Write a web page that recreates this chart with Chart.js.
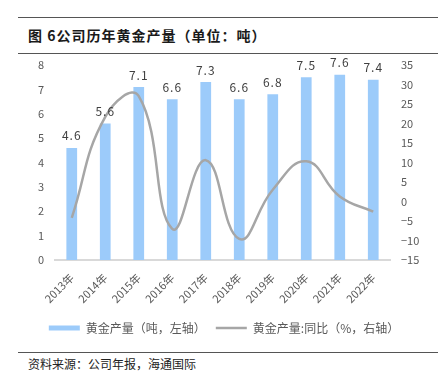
<!DOCTYPE html>
<html>
<head>
<meta charset="utf-8">
<script src="https://cdn.jsdelivr.net/npm/chart.js@4.4.0/dist/chart.umd.min.js"></script>
<style>
  body { margin: 0; width: 448px; height: 384px; background: #fff; position: relative; overflow: hidden; font-family: "Noto Sans CJK SC", "Noto Sans", sans-serif; }
  .rule { position: absolute; left: 18px; width: 420px; height: 0; border-top: 1.5px solid #555; }
  #title { position: absolute; left: 28px; top: 25px; font-size: 14px; font-weight: bold; letter-spacing: 1px; color: #1a1a1a; white-space: nowrap; }
  #source { position: absolute; left: 28px; top: 355px; font-size: 12px; color: #222; white-space: nowrap; }
  #chartBox { position: absolute; left: 0; top: 54px; width: 448px; height: 296px; }
</style>
</head>
<body>
<div class="rule" style="top:17px"></div>
<div id="title">图 6公司历年黄金产量（单位：吨）</div>
<div class="rule" style="top:53px"></div>
<div id="chartBox"><canvas id="myChart" width="448" height="296"></canvas></div>
<div class="rule" style="top:352px"></div>
<div id="source">资料来源：公司年报，海通国际</div>

<script>
// Data
var years = ["2013年", "2014年", "2015年", "2016年", "2017年", "2018年", "2019年", "2020年", "2021年", "2022年"];
var goldOutput = [4.6, 5.6, 7.1, 6.6, 7.3, 6.6, 6.8, 7.5, 7.6, 7.4];   // tonnes, left axis
var yoyChange = [-4.2, 21.7, 27.0, -7.0, 10.6, -9.6, 3.0, 10.3, 1.3, -2.6]; // %, right axis

var labelColor = "#595959";
var cjkFont = "'Noto Sans CJK SC', 'Noto Sans', sans-serif";

// Draw the value above each bar
var barValueLabels = {
  id: "barValueLabels",
  afterDatasetsDraw: function (chart) {
    var ctx = chart.ctx;
    var meta = chart.getDatasetMeta(0);
    ctx.save();
    ctx.font = "12px " + cjkFont;
    ctx.fillStyle = "#404040";
    ctx.textAlign = "center";
    ctx.textBaseline = "bottom";
    ctx.letterSpacing = "1px";
    meta.data.forEach(function (bar, i) {
      ctx.fillText(goldOutput[i].toFixed(1), bar.x, bar.y - 6);
    });
    ctx.restore();
  }
};

var ctx = document.getElementById("myChart").getContext("2d");
var myChart = new Chart(ctx, {
  data: {
    labels: years,
    datasets: [
      {
        type: "bar",
        label: "黄金产量（吨，左轴）",
        data: goldOutput,
        yAxisID: "y",
        backgroundColor: "#9CCBFA",
        borderWidth: 0,
        barPercentage: 0.32,
        categoryPercentage: 1,
        pointStyle: "rect",
        order: 1
      },
      {
        type: "line",
        label: "黄金产量:同比（%，右轴）",
        data: yoyChange,
        yAxisID: "y1",
        borderColor: "#A6A6A6",
        backgroundColor: "#A6A6A6",
        borderWidth: 2.5,
        tension: 0.45,
        pointRadius: 0,
        pointStyle: "line",
        order: 0
      }
    ]
  },
  options: {
    responsive: false,
    animation: false,
    devicePixelRatio: 1,
    layout: { padding: { top: 11, bottom: 6, left: 0, right: 0 } },
    plugins: {
      tooltip: { enabled: false },
      legend: {
        position: "bottom",
        labels: {
          usePointStyle: true,
          pointStyleWidth: 31,
          boxHeight: 5,
          color: labelColor,
          font: { size: 12, family: cjkFont },
          padding: 10,
          // keep bar first, like the original legend
          sort: function (a, b) { return a.datasetIndex - b.datasetIndex; }
        }
      }
    },
    scales: {
      x: {
        grid: { display: false },
        border: { color: "#d9d9d9", width: 2 },
        ticks: {
          color: labelColor,
          font: { size: 11, family: cjkFont },
          minRotation: 45,
          maxRotation: 45
        },
        afterFit: function (scale) { scale.height = 52; }
      },
      y: {
        position: "left",
        min: 0,
        max: 8,
        grid: { display: false },
        border: { display: false },
        ticks: {
          stepSize: 1,
          color: labelColor,
          font: { size: 11, family: cjkFont }
        },
        afterFit: function (scale) { scale.width = 55; }
      },
      y1: {
        position: "right",
        min: -15,
        max: 35,
        grid: { display: false },
        border: { display: false },
        ticks: {
          stepSize: 5,
          color: labelColor,
          font: { size: 11, family: cjkFont },
          callback: function (v) { return v < 0 ? "\u2212" + Math.abs(v) : v; }
        },
        afterFit: function (scale) { scale.width = 58; }
      }
    }
  },
  plugins: [barValueLabels]
});
</script>
</body>
</html>
